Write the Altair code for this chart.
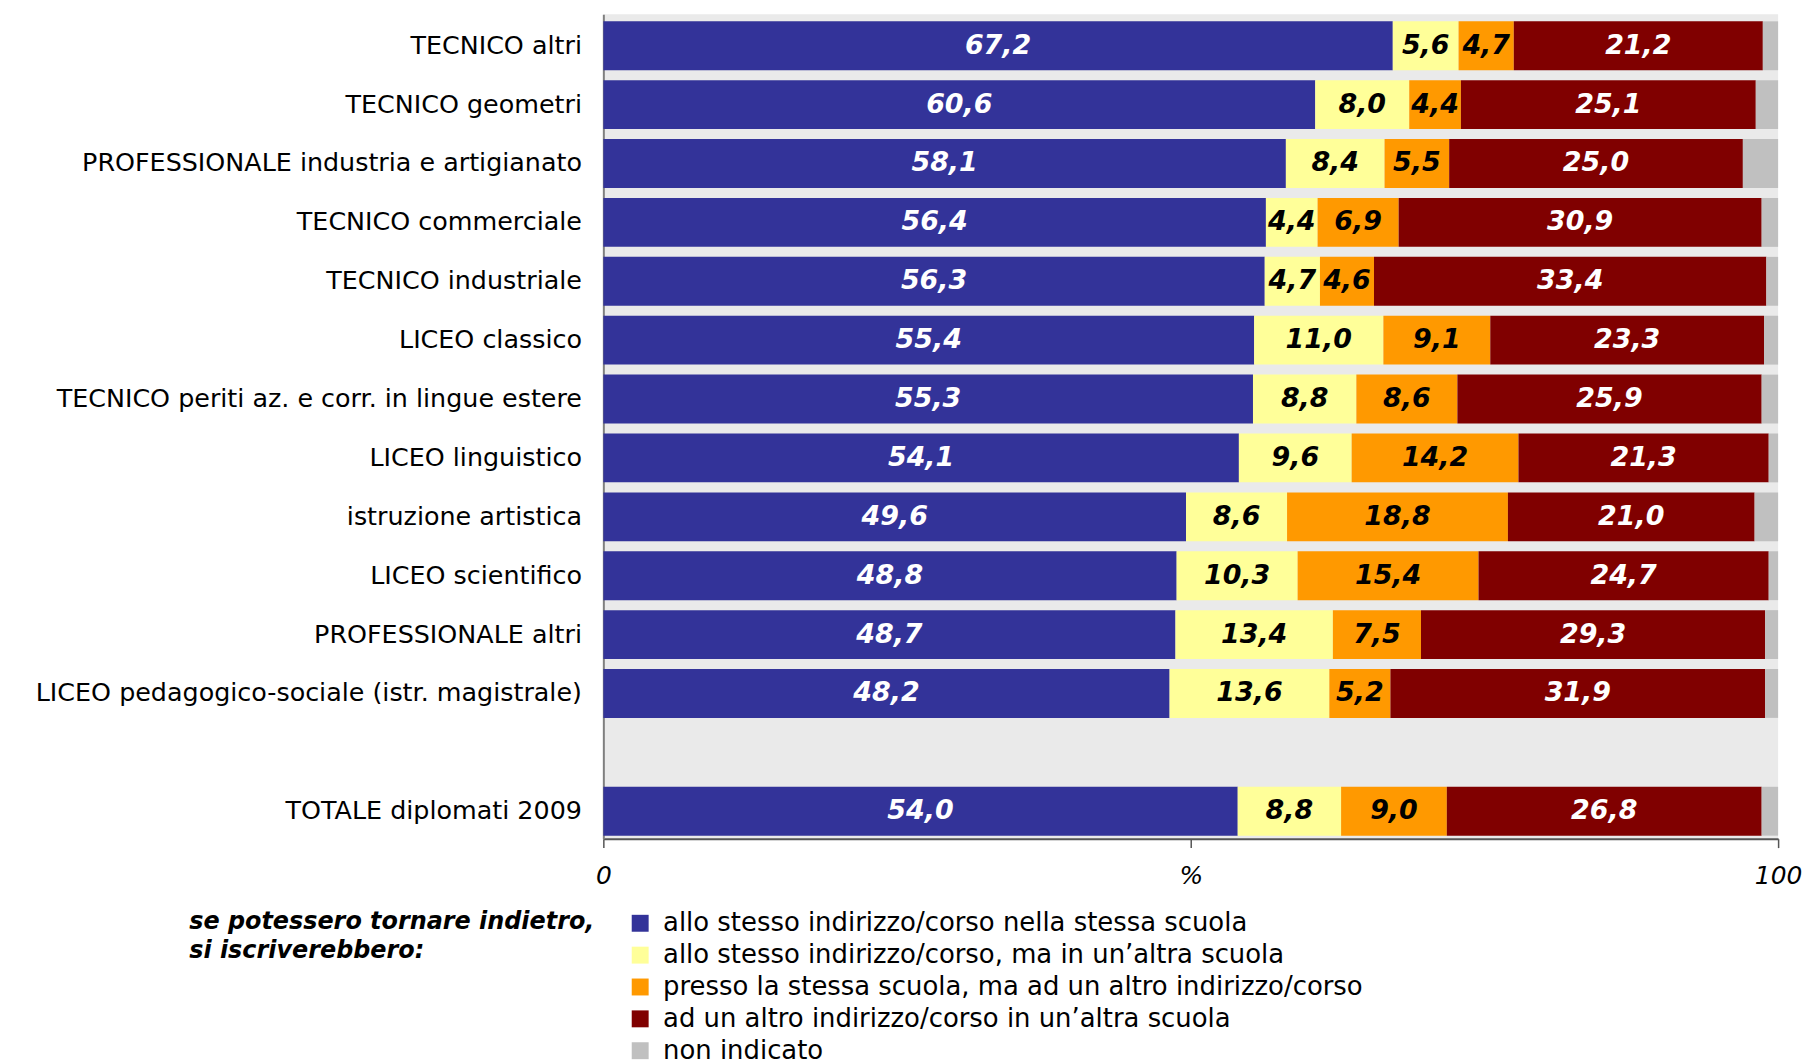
import altair as alt
import pandas as pd

categories = [
    "TECNICO altri",
    "TECNICO geometri",
    "PROFESSIONALE industria e artigianato",
    "TECNICO commerciale",
    "TECNICO industriale",
    "LICEO classico",
    "TECNICO periti az. e corr. in lingue estere",
    "LICEO linguistico",
    "istruzione artistica",
    "LICEO scientifico",
    "PROFESSIONALE altri",
    "LICEO pedagogico-sociale (istr. magistrale)",
    "TOTALE diplomati 2009",
]
series = [
    "allo stesso indirizzo/corso nella stessa scuola",
    "allo stesso indirizzo/corso, ma in un\u2019altra scuola",
    "presso la stessa scuola, ma ad un altro indirizzo/corso",
    "ad un altro indirizzo/corso in un\u2019altra scuola",
    "non indicato",
]
stesso_stessa = [67.2, 60.6, 58.1, 56.4, 56.3, 55.4, 55.3, 54.1, 49.6, 48.8, 48.7, 48.2, 54.0]
stesso_altra = [5.6, 8.0, 8.4, 4.4, 4.7, 11.0, 8.8, 9.6, 8.6, 10.3, 13.4, 13.6, 8.8]
altro_stessa = [4.7, 4.4, 5.5, 6.9, 4.6, 9.1, 8.6, 14.2, 18.8, 15.4, 7.5, 5.2, 9.0]
altro_altra = [21.2, 25.1, 25.0, 30.9, 33.4, 23.3, 25.9, 21.3, 21.0, 24.7, 29.3, 31.9, 26.8]
non_indicato = [1.3, 1.9, 3.0, 1.4, 1.0, 1.2, 1.4, 0.8, 2.0, 0.8, 1.1, 1.1, 1.4]

colors = ["#333399", "#FFFF99", "#FF9900", "#800000", "#C0C0C0"]

rows = []
for i, c in enumerate(categories):
    for k, vals in enumerate([stesso_stessa, stesso_altra, altro_stessa, altro_altra, non_indicato]):
        rows.append({"cat": c, "serie": series[k], "ord": k, "value": vals[i]})
df = pd.DataFrame(rows)

y_domain = categories[:-1] + [" "] + categories[-1:]

FONT = "DejaVu Sans"

y_enc = alt.Y(
    "cat:N",
    scale=alt.Scale(domain=y_domain, paddingInner=0.17, paddingOuter=0.085, align=0.7),
    axis=alt.Axis(
        title=None, ticks=False, domain=True, domainColor="#7f7f7f", domainWidth=2,
        labelFont=FONT, labelFontSize=25.5, labelColor="#000000", labelPadding=22,
        labelLimit=0, minExtent=593, maxExtent=593,
    ),
)

base = alt.Chart(df).transform_stack(
    stack="value", groupby=["cat"], sort=[alt.SortField("ord")], as_=["x0", "x1"]
).transform_calculate(
    mid="(datum.x0 + datum.x1) / 2",
    lab="replace(format(datum.value, '.1f'), '.', ',')",
)

bars = base.mark_bar().encode(
    y=y_enc,
    x=alt.X(
        "x0:Q",
        scale=alt.Scale(domain=[0, 100], nice=False),
        axis=alt.Axis(
            title=None, values=[0, 50, 100], grid=False,
            labelExpr="datum.value == 50 ? '%' : datum.label",
            labelFont=FONT, labelFontSize=25, labelFontStyle="italic", labelColor="#000000",
            labelFlush=False, labelPadding=16, tickSize=9, tickColor="#555555",
            domainColor="#555555", domainWidth=2, tickWidth=1.5,
        ),
    ),
    x2="x1:Q",
    color=alt.Color(
        "serie:N",
        scale=alt.Scale(domain=series, range=colors),
        legend=alt.Legend(
            title=["se potessero tornare indietro,", "si iscriverebbero:"],
            orient="none", legendX=-416, legendY=900,
            titleOrient="left", titleAnchor="start", titleBaseline="top",
            titleFont=FONT, titleFontSize=24, titleFontStyle="italic", titleFontWeight="bold",
            titleColor="#000000", titleLineHeight=29, titlePadding=32, titleLimit=0,
            symbolType="square", symbolSize=289, symbolStrokeWidth=0,
            labelFont=FONT, labelFontSize=26, labelColor="#000000", labelLimit=0,
            rowPadding=6, labelOffset=10,
        ),
    ),
    order=alt.Order("ord:Q"),
)

txt_white = base.transform_filter("datum.ord == 0 || datum.ord == 3").mark_text(
    font=FONT, fontSize=27, fontWeight="bold", fontStyle="italic", color="#ffffff",
    baseline="middle", align="center",
).encode(y=y_enc, x="mid:Q", text="lab:N")

txt_black = base.transform_filter("datum.ord == 1 || datum.ord == 2").mark_text(
    font=FONT, fontSize=27, fontWeight="bold", fontStyle="italic", color="#000000",
    baseline="middle", align="center",
).encode(y=y_enc, x="mid:Q", text="lab:N")

chart = alt.layer(bars, txt_white, txt_black).properties(
    width=1180, height=828,
    padding={"left": 5, "top": 4, "right": 0, "bottom": 0},
).configure_view(fill="#EAEAEA", stroke=None)

chart.save("out.html", embed_options={"renderer": "svg", "actions": False})
